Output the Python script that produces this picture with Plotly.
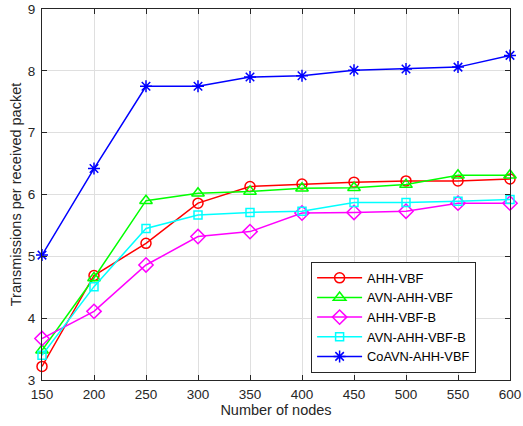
import plotly.graph_objects as go

nodes = [150, 200, 250, 300, 350, 400, 450, 500, 550, 600]
ahh_vbf = [3.22, 4.69, 5.21, 5.86, 6.13, 6.17, 6.20, 6.22, 6.22, 6.25]
avn_ahh_vbf = [3.48, 4.65, 5.90, 6.02, 6.05, 6.10, 6.11, 6.16, 6.31, 6.31]
ahh_vbf_b = [3.67, 4.11, 4.86, 5.32, 5.40, 5.70, 5.71, 5.73, 5.86, 5.86]
avn_ahh_vbf_b = [3.40, 4.51, 5.45, 5.67, 5.71, 5.73, 5.87, 5.87, 5.89, 5.92]
coavn_ahh_vbf = [5.02, 6.42, 7.75, 7.75, 7.90, 7.92, 8.01, 8.03, 8.06, 8.25]

series = [
    ("AHH-VBF", ahh_vbf, "#ff0000", "circle-open", 10),
    ("AVN-AHH-VBF", avn_ahh_vbf, "#00ff00", "triangle-up-open", 11),
    ("AHH-VBF-B", ahh_vbf_b, "#ff00ff", "diamond-open", 11),
    ("AVN-AHH-VBF-B", avn_ahh_vbf_b, "#00ffff", "square-open", 8),
    ("CoAVN-AHH-VBF", coavn_ahh_vbf, "#0000ff", "asterisk-open", 10),
]

fig = go.Figure()
for name, vals, color, sym, size in series:
    fig.add_trace(go.Scatter(
        x=nodes, y=vals, name=name, mode="lines+markers",
        line=dict(color=color, width=1.5),
        marker=dict(symbol=sym, size=size, color=color, line=dict(color=color, width=1.5)),
        cliponaxis=False,
    ))

axis_common = dict(
    showline=True, linecolor="#262626", linewidth=1, mirror="ticks",
    ticks="inside", ticklen=5, tickcolor="#262626",
    showgrid=True, gridcolor="#dfdfdf", gridwidth=1,
    zeroline=False, tickfont=dict(size=13.5, color="#262626"),
    automargin=False,
)

fig.update_layout(
    width=523, height=426,
    margin=dict(l=42, r=13, t=9, b=46),
    paper_bgcolor="white", plot_bgcolor="white",
    font=dict(family="Liberation Sans, Arial, sans-serif", color="#262626"),
    xaxis=dict(range=[150, 600], tickvals=nodes, ticklabelstandoff=2,
               title=dict(text="Number of nodes", font=dict(size=14.5), standoff=2), **axis_common),
    yaxis=dict(range=[3, 9], dtick=1, ticklabelstandoff=3,
               title=dict(text="Transmissions per received packet", font=dict(size=14.5), standoff=2), **axis_common),
    legend=dict(
        x=0.575, y=0.318, xanchor="left", yanchor="top",
        bgcolor="white", bordercolor="#262626", borderwidth=1,
        font=dict(size=12.8, color="#000000"), itemwidth=45,
        tracegroupgap=0,
    ),
    showlegend=True,
)

fig.write_html("out.html")
